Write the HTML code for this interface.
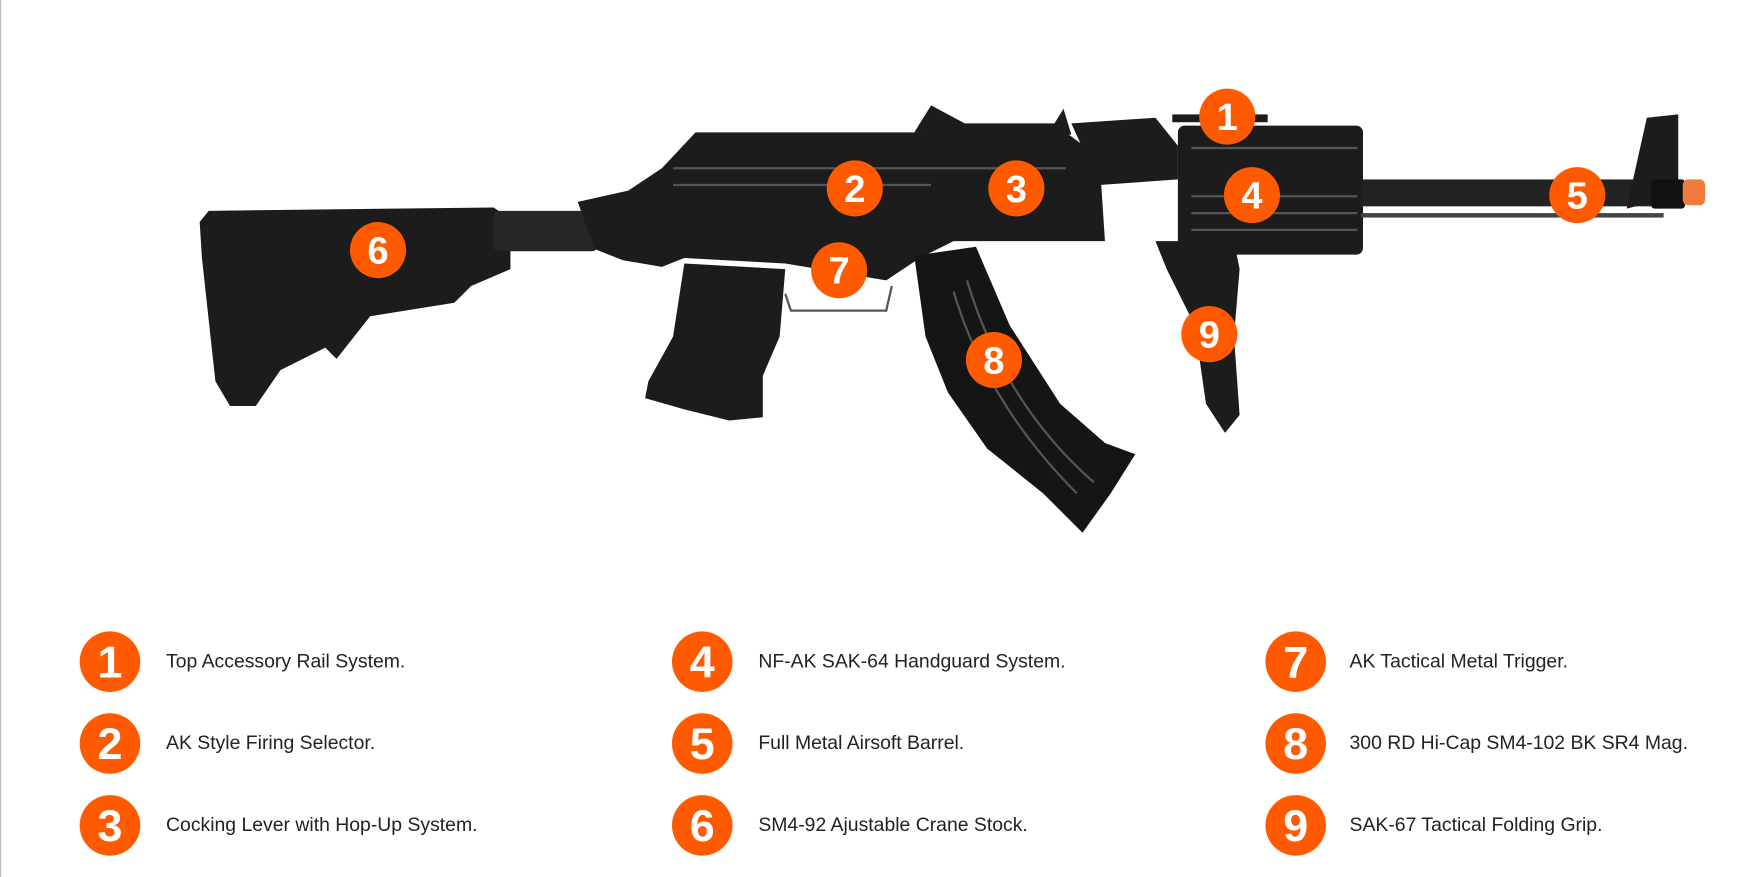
<!DOCTYPE html>
<html><head><meta charset="utf-8"><style>
html,body{margin:0;padding:0;background:#fff;width:1759px;height:877px;overflow:hidden}
svg{display:block}
text{font-family:"Liberation Sans",sans-serif}
</style></head><body>
<svg width="1759" height="877" viewBox="0 0 1568 782" preserveAspectRatio="none">
<rect x="0" y="0" width="1" height="782" fill="#bbb"/>
<g fill="#1c1c1c">
<polygon points="178,198 186,188 440,185 455,195 455,240 420,255 405,270 330,282 300,320 290,310 250,330 228,362 205,362 192,340 180,230"/>
<rect x="440" y="188" width="92" height="36" rx="4" fill="#262626"/>
<polygon points="515,180 560,170 590,150 620,118 950,118 980,140 985,215 850,215 820,230 790,250 700,235 610,230 590,238 555,232 530,222"/>
<polygon points="815,118 830,94 860,110 940,110 948,97 955,120"/>
<polygon points="955,110 1030,105 1050,130 1050,160 980,165"/>
<rect x="1045" y="102" width="85" height="7"/>
<rect x="1050" y="112" width="165" height="115" rx="6"/>
<rect x="1213" y="160" width="260" height="24" fill="#222"/>
<rect x="1213" y="190" width="270" height="4" fill="#444"/>
<polygon points="1450,186 1468,105 1496,102 1496,166 1482,178"/>
<rect x="1472" y="160" width="30" height="26" rx="3" fill="#111"/>
<polygon points="610,235 700,240 695,300 680,335 680,372 650,375 610,365 575,355 578,340 600,300"/>
<polygon points="815,228 870,220 900,290 945,360 985,395 1012,405 990,440 965,475 930,440 880,400 845,350 825,300" fill="#151515"/>
<polygon points="1030,215 1100,215 1105,240 1100,300 1105,370 1092,386 1075,360 1065,290 1040,240"/>
</g>
<g stroke="#555" stroke-width="2" fill="none">
<path d="M700,262 L705,277 L790,277 L795,255"/>
<path d="M1062,132 H1210 M1062,175 H1210 M1062,190 H1210 M1062,205 H1210"/>
<path d="M850,260 Q880,360 960,440 M862,250 Q895,360 975,430"/>
<path d="M600,150 H950 M600,165 H830"/>
</g>
<rect x="1500" y="160" width="20" height="23" rx="5" fill="#f07a3c"/>
<g font-weight="bold" font-size="34" fill="#fff" text-anchor="middle">
<g fill="#ff5a00">
<circle cx="1094" cy="104" r="25"/><circle cx="762" cy="168" r="25"/><circle cx="906" cy="168" r="25"/>
<circle cx="1116" cy="174" r="25"/><circle cx="1406" cy="174" r="25"/><circle cx="337" cy="223" r="25"/>
<circle cx="748" cy="241" r="25"/><circle cx="886" cy="321" r="25"/><circle cx="1078" cy="298" r="25"/>
</g>
<text x="1094" y="116">1</text><text x="762" y="180">2</text><text x="906" y="180">3</text>
<text x="1116" y="186">4</text><text x="1406" y="186">5</text><text x="337" y="235">6</text>
<text x="748" y="253">7</text><text x="886" y="333">8</text><text x="1078" y="310">9</text>
</g>
<g fill="#ff5a00">
<circle cx="98" cy="590" r="27"/><circle cx="98" cy="663" r="27"/><circle cx="98" cy="736" r="27"/>
<circle cx="626" cy="590" r="27"/><circle cx="626" cy="663" r="27"/><circle cx="626" cy="736" r="27"/>
<circle cx="1155" cy="590" r="27"/><circle cx="1155" cy="663" r="27"/><circle cx="1155" cy="736" r="27"/>
</g>
<g font-weight="bold" font-size="40" fill="#fff" text-anchor="middle">
<text x="98" y="604">1</text><text x="98" y="677">2</text><text x="98" y="750">3</text>
<text x="626" y="604">4</text><text x="626" y="677">5</text><text x="626" y="750">6</text>
<text x="1155" y="604">7</text><text x="1155" y="677">8</text><text x="1155" y="750">9</text>
</g>
<g font-size="17.3" fill="#222">
<text x="148" y="595">Top Accessory Rail System.</text>
<text x="148" y="668">AK Style Firing Selector.</text>
<text x="148" y="741">Cocking Lever with Hop-Up System.</text>
<text x="676" y="595">NF-AK SAK-64 Handguard System.</text>
<text x="676" y="668">Full Metal Airsoft Barrel.</text>
<text x="676" y="741">SM4-92 Ajustable Crane Stock.</text>
<text x="1203" y="595">AK Tactical Metal Trigger.</text>
<text x="1203" y="668">300 RD Hi-Cap SM4-102 BK SR4 Mag.</text>
<text x="1203" y="741">SAK-67 Tactical Folding Grip.</text>
</g>
</svg>
</body></html>
